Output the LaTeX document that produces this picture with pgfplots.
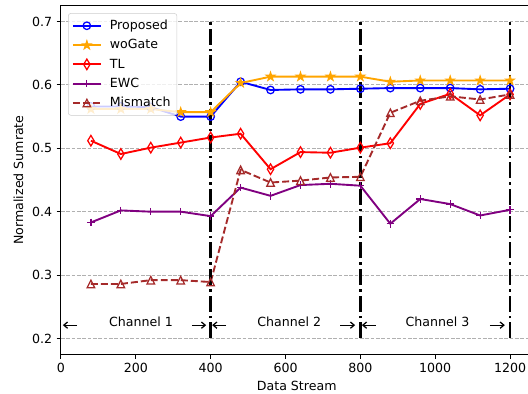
\documentclass[border=0pt]{standalone}
\usepackage{fontspec}
\setmainfont{DejaVu Sans}
\usepackage{pgfplots}
\pgfplotsset{compat=1.18}
\usetikzlibrary{calc,arrows.meta,plotmarks}

\definecolor{mplorange}{RGB}{255,165,0}
\definecolor{mplpurple}{RGB}{128,0,128}
\definecolor{mplbrown}{RGB}{165,42,42}
\definecolor{gridgray}{RGB}{176,176,176}
\definecolor{legedge}{RGB}{204,204,204}

% filled five-pointed star
\pgfdeclareplotmark{fstar}{%
  \pgfpathmoveto{\pgfpointpolar{90}{\pgfplotmarksize}}%
  \pgfpathlineto{\pgfpointpolar{126}{0.382\pgfplotmarksize}}%
  \pgfpathlineto{\pgfpointpolar{162}{\pgfplotmarksize}}%
  \pgfpathlineto{\pgfpointpolar{198}{0.382\pgfplotmarksize}}%
  \pgfpathlineto{\pgfpointpolar{234}{\pgfplotmarksize}}%
  \pgfpathlineto{\pgfpointpolar{270}{0.382\pgfplotmarksize}}%
  \pgfpathlineto{\pgfpointpolar{306}{\pgfplotmarksize}}%
  \pgfpathlineto{\pgfpointpolar{342}{0.382\pgfplotmarksize}}%
  \pgfpathlineto{\pgfpointpolar{18}{\pgfplotmarksize}}%
  \pgfpathlineto{\pgfpointpolar{54}{0.382\pgfplotmarksize}}%
  \pgfpathclose
  \pgfusepathqfillstroke}
% open isoceles triangle pointing up
\pgfdeclareplotmark{otri}{%
  \pgfpathmoveto{\pgfqpoint{0pt}{\pgfplotmarksize}}%
  \pgfpathlineto{\pgfqpoint{-\pgfplotmarksize}{-\pgfplotmarksize}}%
  \pgfpathlineto{\pgfqpoint{\pgfplotmarksize}{-\pgfplotmarksize}}%
  \pgfpathclose
  \pgfusepathqstroke}

\begin{document}
\begin{tikzpicture}[font=\fontsize{10}{12}\selectfont]
\begin{axis}[
  name=ax, at={(0,0)}, anchor=south west,
  scale only axis, width=374.4pt, height=276.8pt,
  xmin=0, xmax=1260, ymin=0.175, ymax=0.725,
  xtick={0,200,400,600,800,1000,1200},
  ytick={0.2,0.3,0.4,0.5,0.6,0.7},
  xticklabel style={/pgf/number format/.cd, 1000 sep={}},
  yticklabel style={/pgf/number format/.cd, fixed, fixed zerofill, precision=1},
  /pgf/number format/assume math mode=true,
  scaled ticks=false,
  tick align=outside, xtick pos=bottom, ytick pos=left,
  major tick length=3.5pt,
  tick style={black, line width=0.8pt},
  axis line style={line width=0.8pt},
  ymajorgrids,
  major grid style={gridgray, dash pattern=on 2.96pt off 1.28pt, line width=0.8pt},
  xlabel={Data Stream}, ylabel={Normalized Sumrate},
  legend cell align=left,
  legend style={at={(axis description cs:0,1)}, anchor=north west,
    xshift=5.6pt, yshift=-6pt, draw=legedge, fill=white, fill opacity=0.8,
    text opacity=1, rounded corners=2pt, row sep=2.4pt,
    font=\fontsize{10}{12}\selectfont, inner xsep=3pt, inner ysep=3.2pt},
  legend image code/.code={%
    \draw[mark repeat=2, mark phase=2] plot coordinates {(0pt,0pt) (11pt,0pt) (22pt,0pt)};
    \path (26.5pt,0pt);},
  every axis plot/.append style={line width=1.5pt},
]
\addplot[blue, mark=o, mark size=3pt, mark options={solid, line width=1pt}]
  coordinates {(80,0.566) (160,0.566) (240,0.565) (320,0.550) (400,0.550)
   (480,0.605) (560,0.592) (640,0.593) (720,0.593) (800,0.594)
   (880,0.595) (960,0.595) (1040,0.595) (1120,0.593) (1200,0.594)};
\addlegendentry{Proposed}
\addplot[mplorange, mark=fstar, mark size=3.3pt, mark options={solid, line width=1pt, fill=mplorange}]
  coordinates {(80,0.562) (160,0.562) (240,0.562) (320,0.557) (400,0.557)
   (480,0.603) (560,0.613) (640,0.613) (720,0.613) (800,0.613)
   (880,0.605) (960,0.607) (1040,0.607) (1120,0.607) (1200,0.607)};
\addlegendentry{woGate}
\addplot[red, mark=diamond, mark size=4.2pt, mark options={solid, line width=1pt, xscale=0.8}]
  coordinates {(80,0.512) (160,0.491) (240,0.501) (320,0.509) (400,0.517)
   (480,0.523) (560,0.467) (640,0.494) (720,0.493) (800,0.501)
   (880,0.508) (960,0.570) (1040,0.586) (1120,0.552) (1200,0.585)};
\addlegendentry{TL}
\addplot[mplpurple, mark=+, mark size=3pt, mark options={solid, line width=1pt}]
  coordinates {(80,0.383) (160,0.402) (240,0.400) (320,0.400) (400,0.393)
   (480,0.438) (560,0.425) (640,0.442) (720,0.444) (800,0.441)
   (880,0.381) (960,0.420) (1040,0.412) (1120,0.394) (1200,0.403)};
\addlegendentry{EWC}
\addplot[mplbrown, dash pattern=on 5.55pt off 2.4pt, mark=otri, mark size=3pt, mark options={solid, line width=1pt}]
  coordinates {(80,0.286) (160,0.286) (240,0.292) (320,0.292) (400,0.289)
   (480,0.466) (560,0.446) (640,0.449) (720,0.454) (800,0.455)
   (880,0.556) (960,0.575) (1040,0.582) (1120,0.577) (1200,0.585)};
\addlegendentry{Mismatch}

% channel boundaries
\addplot[forget plot, black, line width=2pt, dash pattern=on 12.8pt off 3.2pt on 2pt off 3.2pt]
  coordinates {(400,0.2) (400,0.7)};
\addplot[forget plot, black, line width=2pt, dash pattern=on 12.8pt off 3.2pt on 2pt off 3.2pt]
  coordinates {(800,0.2) (800,0.7)};
\addplot[forget plot, black, line width=2pt, dash pattern=on 12.8pt off 3.2pt on 2pt off 3.2pt]
  coordinates {(1200,0.2) (1200,0.7)};

% channel annotations
\begin{scope}[line width=1pt, -{Straight Barb[length=3pt,width=5pt]}]
\draw (axis cs:43,0.221) -- (axis cs:5,0.221);
\draw (axis cs:350,0.221) -- (axis cs:388,0.221);
\draw (axis cs:441,0.221) -- (axis cs:404,0.221);
\draw (axis cs:746,0.221) -- (axis cs:786,0.221);
\draw (axis cs:841,0.221) -- (axis cs:804,0.221);
\draw (axis cs:1146,0.221) -- (axis cs:1186,0.221);
\end{scope}
\node[anchor=base] at (axis cs:214,0.219) {Channel 1};
\node[anchor=base] at (axis cs:610,0.219) {Channel 2};
\node[anchor=base] at (axis cs:1006,0.219) {Channel 3};
\end{axis}
\pgfresetboundingbox
\path[use as bounding box] ($(ax.south west)+(-48.4pt,-31.5pt)$) rectangle ($(ax.south west)+(370.8pt,281.3pt)$);
\end{tikzpicture}
\end{document}
